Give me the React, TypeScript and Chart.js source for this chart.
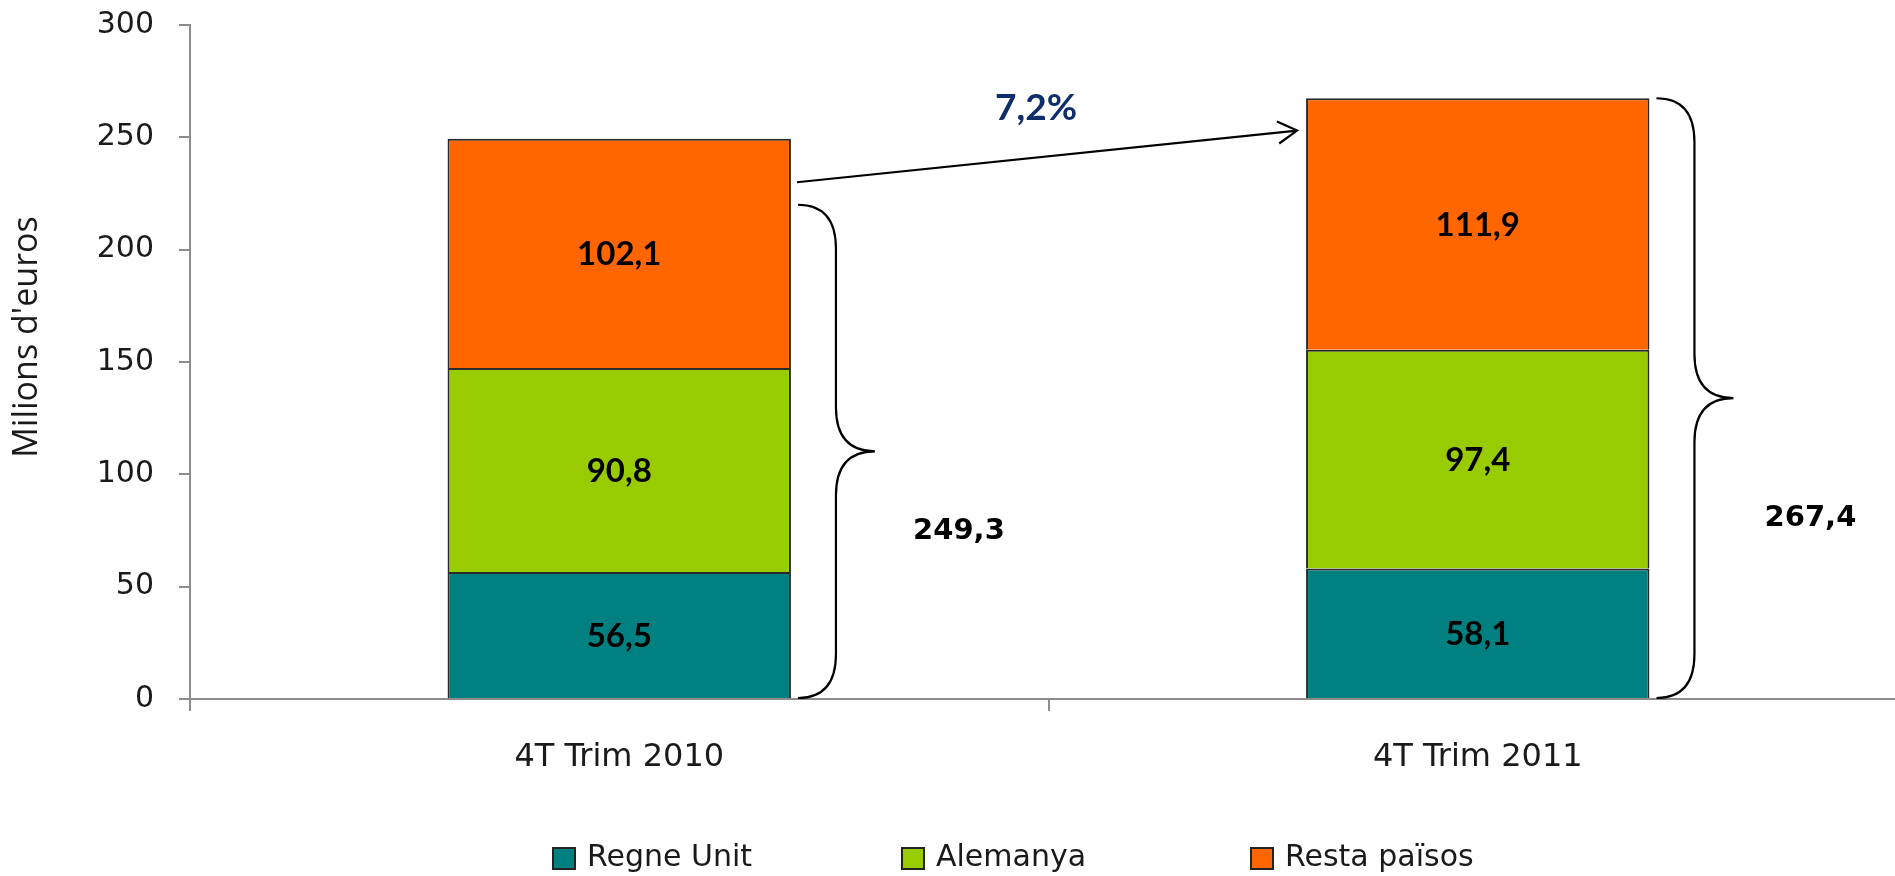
import React, { useEffect, useRef } from 'react';
import { Chart, registerables } from 'chart.js';

Chart.register(...registerables);

// ---- data ----
const categories = ['4T Trim 2010', '4T Trim 2011'];
const seriesNames = ['Regne Unit', 'Alemanya', 'Resta països'];
const regneUnit = [56.5, 58.1];
const alemanya = [90.8, 97.4];
const restaPaisos = [102.1, 111.9];
const totals = [249.3, 267.4];
const braceTops = [220, 267.4];
const growthLabel = '7,2%';
const arrowStartValue = 230;
const arrowEndValue = 253;
const yTitle = "Milions d'euros";
const yMin = 0;
const yMax = 300;
const yStep = 50;

const colors = ['#008080', '#99CC00', '#FF6600'];
const seriesValues = [regneUnit, alemanya, restaPaisos];

const fmt = (v: number) => v.toFixed(1).replace('.', ',');

const annotationPlugin = {
  id: 'annotations',
  afterDatasetsDraw(chart: any) {
    const ctx = chart.ctx;
    const y = chart.scales.y;
    const area = chart.chartArea;
    ctx.save();

    // segment labels
    ctx.fillStyle = '#000';
    ctx.font = 'bold 33px Lato';
    ctx.textAlign = 'center';
    ctx.textBaseline = 'middle';
    chart.data.datasets.forEach((ds: any, di: number) => {
      const meta = chart.getDatasetMeta(di);
      meta.data.forEach((el: any, i: number) => {
        const cy = (el.y + el.base) / 2;
        ctx.fillText(fmt(ds.data[i]), el.x, cy + 1);
      });
    });

    // braces and totals
    const topMeta = chart.getDatasetMeta(chart.data.datasets.length - 1);
    const bars = topMeta.data;
    ctx.strokeStyle = '#000';
    ctx.lineWidth = 2.2;
    bars.forEach((el: any, i: number) => {
      const right = el.x + el.width / 2;
      const x0 = right + 7;
      const xv = right + 45;
      const xt = right + 84;
      const yTop = y.getPixelForValue(braceTops[i]);
      const yBot = y.getPixelForValue(0) - 1;
      const yMid = (yTop + yBot) / 2;
      const r = 44;
      ctx.beginPath();
      ctx.moveTo(x0, yTop);
      ctx.quadraticCurveTo(xv, yTop, xv, yTop + r);
      ctx.lineTo(xv, yMid - r);
      ctx.quadraticCurveTo(xv, yMid, xt, yMid);
      ctx.quadraticCurveTo(xv, yMid, xv, yMid + r);
      ctx.lineTo(xv, yBot - r);
      ctx.quadraticCurveTo(xv, yBot, x0, yBot);
      ctx.stroke();

      ctx.font = 'bold 29px "DejaVu Sans"';
      ctx.fillStyle = '#000';
      ctx.textAlign = 'center';
      ctx.fillText(fmt(totals[i]), right + (i === 0 ? 168 : 161), y.getPixelForValue(totals[i] * 0.3));
    });

    // growth arrow
    const b0 = bars[0];
    const b1 = bars[1];
    const ax1 = b0.x + b0.width / 2 + 6;
    const ay1 = y.getPixelForValue(arrowStartValue);
    const ax2 = b1.x - b1.width / 2 - 9;
    const ay2 = y.getPixelForValue(arrowEndValue);
    ctx.lineWidth = 2.2;
    ctx.beginPath();
    ctx.moveTo(ax1, ay1);
    ctx.lineTo(ax2, ay2);
    const ang = Math.atan2(ay2 - ay1, ax2 - ax1);
    const hl = 22;
    ctx.moveTo(ax2 - hl * Math.cos(ang - Math.PI / 6), ay2 - hl * Math.sin(ang - Math.PI / 6));
    ctx.lineTo(ax2, ay2);
    ctx.lineTo(ax2 - hl * Math.cos(ang + Math.PI / 6), ay2 - hl * Math.sin(ang + Math.PI / 6));
    ctx.stroke();

    ctx.font = 'bold 37px Lato';
    ctx.fillStyle = '#0F2C6C';
    ctx.textAlign = 'center';
    ctx.textBaseline = 'middle';
    ctx.fillText(growthLabel, (ax1 + ax2) / 2 - 11, y.getPixelForValue(263));

    // y axis title
    ctx.save();
    ctx.translate(27, (area.top + area.bottom) / 2 - 25);
    ctx.rotate(-Math.PI / 2);
    ctx.font = '34px "Open Sans"';
    ctx.fillStyle = '#1a1a1a';
    ctx.textAlign = 'center';
    ctx.textBaseline = 'middle';
    ctx.fillText(yTitle, 0, 0);
    ctx.restore();

    // legend
    const legendStart = area.left + 363;
    const pitch = 349;
    const ly = 858.5;
    ctx.font = '30px "DejaVu Sans"';
    ctx.textAlign = 'left';
    ctx.textBaseline = 'middle';
    chart.data.datasets.forEach((ds: any, di: number) => {
      const lx = legendStart + di * pitch;
      ctx.fillStyle = ds.backgroundColor;
      ctx.fillRect(lx, ly - 10.5, 22, 21);
      ctx.strokeStyle = '#222';
      ctx.lineWidth = 2;
      ctx.strokeRect(lx, ly - 10.5, 22, 21);
      ctx.fillStyle = '#1a1a1a';
      ctx.fillText(ds.label, lx + 34, ly);
    });

    ctx.restore();
  },
};

export default function App() {
  const ref = useRef<HTMLCanvasElement | null>(null);

  useEffect(() => {
    if (!ref.current) return;
    const chart = new Chart(ref.current, {
      type: 'bar',
      data: {
        labels: categories,
        datasets: seriesNames.map((name, i) => ({
          label: name,
          data: seriesValues[i],
          backgroundColor: colors[i],
          borderColor: '#2a2a2a',
          borderWidth: { top: 2, left: 2, right: 2, bottom: 0 },
          borderSkipped: false,
          barPercentage: 0.4,
          categoryPercentage: 1,
        })),
      },
      options: {
        responsive: false,
        animation: false,
        devicePixelRatio: 1,
        layout: { padding: { top: 25, right: 13, left: 0, bottom: 0 } },
        plugins: {
          legend: { display: false },
          tooltip: { enabled: false },
        },
        scales: {
          x: {
            stacked: true,
            grid: {
              offset: true,
              drawOnChartArea: false,
              drawTicks: true,
              tickLength: 12,
              color: '#8c8c8c',
              lineWidth: 2,
            },
            border: { color: '#8c8c8c', width: 2 },
            ticks: {
              color: '#1a1a1a',
              font: { family: 'DejaVu Sans', size: 32 },
              padding: 27,
              maxRotation: 0,
            },
            afterFit(scale: any) {
              scale.height = 177;
              scale.paddingLeft = 0;
              scale.paddingRight = 0;
            },
          },
          y: {
            stacked: true,
            min: yMin,
            max: yMax,
            ticks: {
              stepSize: yStep,
              color: '#1a1a1a',
              font: { family: 'DejaVu Sans', size: 30 },
              padding: 25,
            },
            grid: {
              drawOnChartArea: false,
              tickLength: 11,
              color: '#8c8c8c',
              lineWidth: 2,
            },
            border: { color: '#8c8c8c', width: 2 },
            afterFit(scale: any) {
              scale.width = 190;
              scale.paddingTop = 0;
              scale.paddingBottom = 0;
            },
          },
        },
      },
      plugins: [annotationPlugin],
    });
    return () => chart.destroy();
  }, []);

  return (
    <div
      style={{
        position: 'fixed',
        left: 0,
        top: 0,
        width: '1895px',
        height: '876px',
        overflow: 'hidden',
        background: '#fff',
      }}
    >
      <canvas ref={ref} width={1920} height={876} style={{ display: 'block' }} />
    </div>
  );
}
